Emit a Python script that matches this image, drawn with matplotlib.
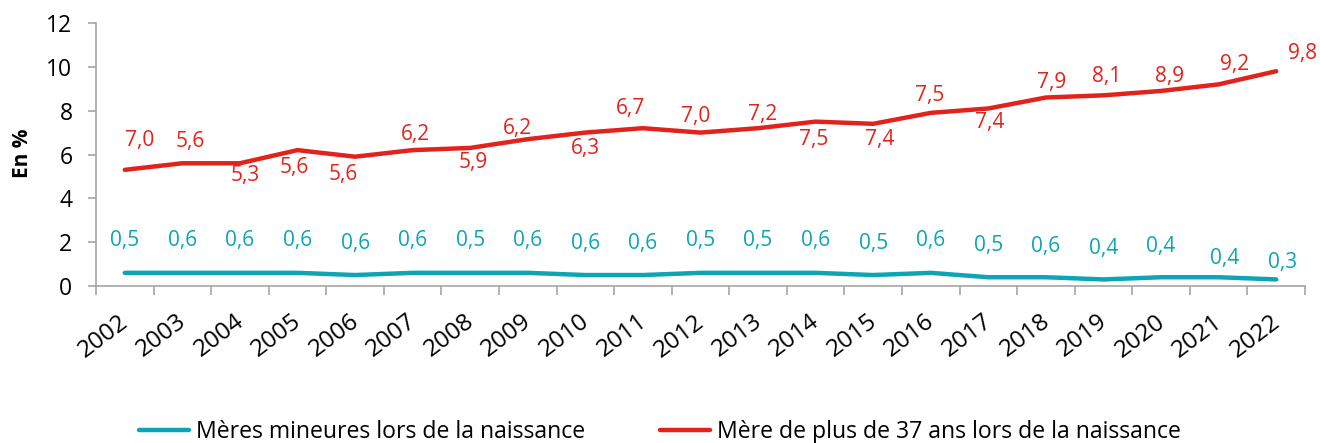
import matplotlib
matplotlib.use("Agg")
import matplotlib.pyplot as plt
import matplotlib.transforms as mtransforms

plt.rcParams["font.family"] = ["Open Sans", "DejaVu Sans"]

years = [str(y) for y in range(2002, 2023)]

# values
mineures = [0.6, 0.6, 0.6, 0.6, 0.5, 0.6, 0.6, 0.6, 0.5, 0.5, 0.6,
            0.6, 0.6, 0.5, 0.6, 0.4, 0.4, 0.3, 0.4, 0.4, 0.3]
plus37 = [5.3, 5.6, 5.6, 6.2, 5.9, 6.2, 6.3, 6.7, 7.0, 7.2, 7.0,
          7.2, 7.5, 7.4, 7.9, 8.1, 8.6, 8.7, 8.9, 9.2, 9.8]

# data labels as printed on the chart
mineures_lbl = ["0,5", "0,6", "0,6", "0,6", "0,6", "0,6", "0,5", "0,6", "0,6", "0,6", "0,5",
                "0,5", "0,6", "0,5", "0,6", "0,5", "0,6", "0,4", "0,4", "0,4", "0,3"]
plus37_lbl = ["7,0", "5,6", "5,3", "5,6", "5,6", "6,2", "5,9", "6,2", "6,3", "6,7", "7,0",
              "7,2", "7,5", "7,4", "7,5", "7,4", "7,9", "8,1", "8,9", "9,2", "9,8"]

# label offsets (pixels, dx right / dy up)
red_off = [(15, 29), (8, 22), (5, -12), (-3, -17), (-12, -18), (3, 16), (3, -15),
           (-10, 11), (0, -16), (-12, 20), (-5, 16), (5, 14), (-2, -18), (6, -16),
           (-1, 17), (1, -14), (6, 15), (3, 19), (8, 14), (16, 20), (26, 18)]
teal_off = [(0, 32)] * 16 + [(0, 31), (0, 31), (0, 31), (6, 19), (6, 17)]

teal = "#0DA4B5"
red = "#E2231B"
grey = "#A6A6A6"

fig = plt.figure(figsize=(13.2, 4.43), dpi=100)
ax = fig.add_axes([96 / 1320, 1 - 286 / 443, (1305 - 96) / 1320, (286 - 23) / 443])

x = list(range(len(years)))
ax.plot(x, mineures, color=teal, lw=3.2, solid_capstyle="round",
        label="Mères mineures lors de la naissance")
ax.plot(x, plus37, color=red, lw=3.2, solid_capstyle="round",
        label="Mère de plus de 37 ans lors de la naissance")

px = 0.72  # pixel -> points
for i in x:
    dx, dy = red_off[i]
    ax.annotate(plus37_lbl[i], (i, plus37[i]), xytext=(dx * px, dy * px),
                textcoords="offset points", ha="center", va="center",
                color=red, fontsize=15)
    dx, dy = teal_off[i]
    ax.annotate(mineures_lbl[i], (i, mineures[i]), xytext=(dx * px, dy * px),
                textcoords="offset points", ha="center", va="center",
                color=teal, fontsize=15)

ax.set_xlim(-0.5, len(years) - 0.5)
ax.set_ylim(0, 12)
ax.set_yticks(range(0, 13, 2))
ax.tick_params(axis="y", labelsize=16.5, length=6, width=1.2, color=grey, pad=11)

ax.set_xticks(x)
ax.set_xticklabels(years, rotation=37, ha="right", va="top",
                   rotation_mode="anchor", fontsize=17.5)
ax.tick_params(axis="x", length=0, pad=17)
ax.set_xticks([i - 0.5 for i in range(len(years) + 1)], minor=True)
ax.tick_params(axis="x", which="minor", length=6.5, width=1.2, color=grey)
shift = mtransforms.ScaledTranslation(-6 / 100, 0, fig.dpi_scale_trans)
for lbl in ax.get_xticklabels():
    lbl.set_transform(lbl.get_transform() + shift)

for s in ["top", "right"]:
    ax.spines[s].set_visible(False)
for s in ["left", "bottom"]:
    ax.spines[s].set_color(grey)
    ax.spines[s].set_linewidth(1.2)

fig.text(22 / 1320, 1 - 153 / 443, "En %", rotation=90, ha="center", va="center",
         fontsize=15, fontweight="bold")

fig.legend(loc="center", bbox_to_anchor=(0.5, 1 - 432 / 443), ncol=2, frameon=False,
           fontsize=16.6, handlelength=2.17, handletextpad=0.3, columnspacing=3.26,
           borderpad=0, borderaxespad=0)

fig.savefig("out.png", dpi=100)
